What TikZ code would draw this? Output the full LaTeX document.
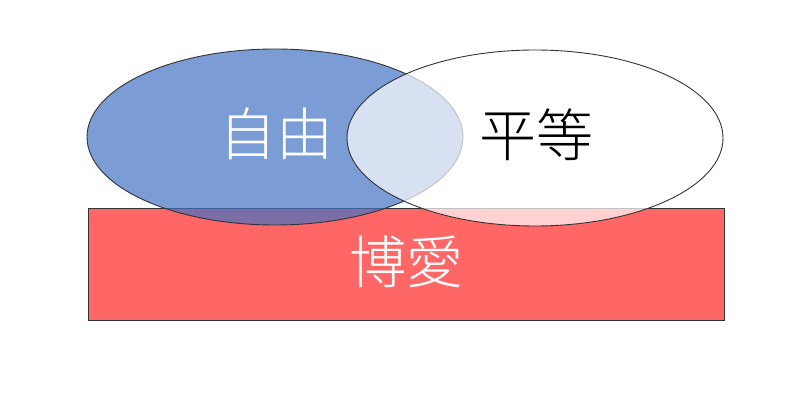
\documentclass[tikz,border=0pt]{standalone}
\usepackage{fontspec}
\newfontfamily\cjk{Noto Sans CJK JP Light}
\usetikzlibrary{shapes.geometric}
\definecolor{libblue}{HTML}{4472C4}
\definecolor{fraternityred}{HTML}{FF6666}
\definecolor{edgegray}{HTML}{333333}
\tikzset{
  venn/.style={ellipse, draw=edgegray, line width=0.9pt, minimum width=376pt, minimum height=176pt, inner sep=0pt},
  basebox/.style={rectangle, draw=edgegray, line width=0.9pt, fill=fraternityred, minimum width=636pt, minimum height=112pt, inner sep=0pt},
  bigtext/.style={font=\cjk\fontsize{57}{60}\selectfont, inner sep=0pt}
}
\begin{document}
\begin{tikzpicture}[x=1pt,y=-1pt]
\useasboundingbox (0,0) rectangle (800,419);
\fill[white] (0,0) rectangle (800,419);
\node[basebox] (love) at (406,264) {};
\node[venn, fill=libblue, fill opacity=0.7] (liberty) at (275,137) {};
\node[venn, fill=white, fill opacity=0.7] (equality) at (535,138) {};
\node[bigtext, text=white] (tliberty) at (276,134) {自由};
\node[bigtext, text=black] (tequality) at (536,135) {平等};
\node[bigtext, text=white] (tlove) at (406,262) {博愛};
\end{tikzpicture}
\end{document}
